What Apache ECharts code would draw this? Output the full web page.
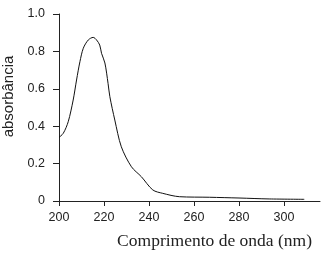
<!DOCTYPE html>
<html>
<head>
<meta charset="utf-8">
<script src="https://cdn.jsdelivr.net/npm/echarts@6/dist/echarts.min.js"></script>
<style>html,body{margin:0;padding:0;background:#fff}#c{width:325px;height:254px}</style>
</head>
<body>
<div id="c"></div>
<script>
var wavelength = [200, 201.9, 204.1, 206.3, 207.8, 209.3, 210.8, 213, 215.2, 216.7, 218.1, 218.9, 220.4, 221.8, 222.6, 224.8, 227.7, 232.2, 236.6, 241.7, 246.1, 253.5, 266.8, 280, 293.4, 309];
var absorbance = [0.34, 0.362, 0.424, 0.54, 0.647, 0.745, 0.817, 0.861, 0.875, 0.861, 0.834, 0.79, 0.738, 0.629, 0.558, 0.433, 0.29, 0.183, 0.13, 0.059, 0.041, 0.023, 0.02, 0.016, 0.011, 0.009];
var xTicks = [200, 220, 240, 260, 280, 300];
var yTicks = [0, 0.2, 0.4, 0.6, 0.8, 1.0];
var xTitle = 'Comprimento de onda (nm)';
var yTitle = 'absorbância';

var pts = wavelength.map(function (w, i) { return [w, absorbance[i]]; });
var chart = echarts.init(document.getElementById('c'));
var axisColor = '#222';
chart.setOption({
  animation: false,
  grid: { left: 59, top: 14, right: 5, bottom: 53, containLabel: false, outerBoundsMode: 'none' },
  xAxis: {
    type: 'value', min: 200, max: 316,
    axisLine: { lineStyle: { color: axisColor, width: 1 } },
    axisTick: { show: true, length: 5, customValues: xTicks, lineStyle: { color: axisColor } },
    axisLabel: { customValues: xTicks, margin: 10, fontFamily: 'Liberation Sans', fontSize: 12.5, color: '#222' },
    splitLine: { show: false },
    name: xTitle, nameLocation: 'end', nameGap: -8,
    nameTextStyle: { fontFamily: 'Liberation Serif', fontSize: 17.5, color: '#222', align: 'right', verticalAlign: 'top', padding: [31, 0, 0, 0] }
  },
  yAxis: {
    type: 'value', min: 0, max: 1, interval: 0.2,
    axisLine: { show: true, lineStyle: { color: axisColor, width: 1 } },
    axisTick: { show: true, length: 6, lineStyle: { color: axisColor } },
    axisLabel: { margin: 14, fontFamily: 'Liberation Sans', fontSize: 12.5, color: '#222',
      formatter: function (v) { return v === 0 ? '0' : v.toFixed(1); } },
    splitLine: { show: false },
    name: yTitle, nameLocation: 'middle', nameGap: 41,
    nameTextStyle: { fontFamily: 'Liberation Sans', fontSize: 15, color: '#222', padding: [0, 0, 0, 22] }
  },
  series: [{
    type: 'line', data: pts, showSymbol: false, smooth: 0.3,
    lineStyle: { color: '#111', width: 1 }
  }]
});
</script>
</body>
</html>
